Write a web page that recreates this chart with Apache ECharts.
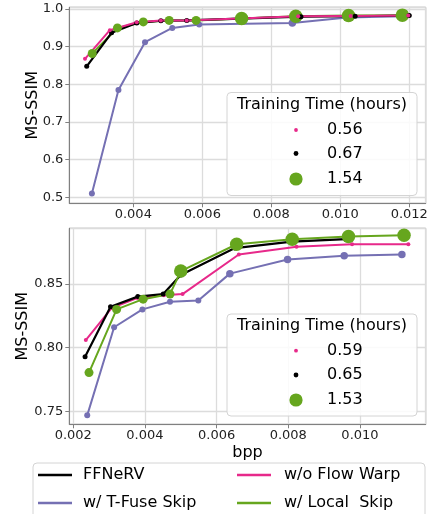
<!DOCTYPE html>
<html><head><meta charset="utf-8">
<script src="https://cdn.jsdelivr.net/npm/echarts@6/dist/echarts.min.js"></script>
<style>html,body{margin:0;padding:0;background:#fff}#c{width:438px;height:514px}</style>
</head><body><div id="c"></div>
<script>
// ---------- data: top panel ----------
const ffTopX    = [0.00265, 0.00337, 0.0041, 0.0048, 0.00555, 0.00886, 0.01043, 0.0120];
const ffTopY    = [0.848, 0.937, 0.963, 0.969, 0.970, 0.980, 0.981, 0.983];
const flowTopX  = [0.0026, 0.00332, 0.0041, 0.0048, 0.00555, 0.00878, 0.0103, 0.01197];
const flowTopY  = [0.868, 0.944, 0.965, 0.970, 0.970, 0.981, 0.982, 0.983];
const tfuseTopX = [0.0028, 0.00357, 0.00434, 0.00513, 0.00591, 0.00861, 0.0102, 0.01183];
const tfuseTopY = [0.510, 0.785, 0.912, 0.950, 0.959, 0.963, 0.978, 0.981];
const localTopX = [0.00281, 0.00354, 0.00429, 0.00504, 0.00582, 0.00714, 0.00871, 0.01024, 0.0118];
const localTopY = [0.882, 0.950, 0.966, 0.970, 0.970, 0.975, 0.981, 0.983, 0.984];
const timeTop   = ['0.56', '0.67', '1.54'];

// ---------- data: bottom panel ----------
const ffBotX    = [0.00233, 0.00304, 0.0038, 0.00451, 0.0050, 0.00651, 0.0081, 0.00961];
const ffBotY    = [0.793, 0.832, 0.840, 0.842, 0.857, 0.878, 0.883, 0.885];
const flowBotX  = [0.00235, 0.00307, 0.0038, 0.00453, 0.00505, 0.00662, 0.00823, 0.00978, 0.01135];
const flowBotY  = [0.806, 0.831, 0.839, 0.841, 0.842, 0.873, 0.879, 0.881, 0.881];
const tfuseBotX = [0.00239, 0.00314, 0.00393, 0.0047, 0.00549, 0.00637, 0.00798, 0.00956, 0.01117];
const tfuseBotY = [0.747, 0.816, 0.830, 0.836, 0.837, 0.858, 0.869, 0.872, 0.873];
const localBotX = [0.00244, 0.00321, 0.00395, 0.0047, 0.0050, 0.00656, 0.00811, 0.00968, 0.01123];
const localBotY = [0.7805, 0.830, 0.838, 0.842, 0.860, 0.881, 0.885, 0.887, 0.888];
const timeBot   = ['0.59', '0.65', '1.53'];

const seriesNames = ['FFNeRV', 'w/o Flow Warp', 'w/ T-Fuse Skip', 'w/ Local  Skip'];

// ---------- styling ----------
const FONT = 'DejaVu Sans';
const C = { ff: '#000000', flow: '#e7298a', tfuse: '#7570b3', local: '#66a61e' };
const zip = (xs, ys) => xs.map((x, i) => [x, ys[i]]);

function mkSeries(name, color, xs, ys, gi, size, lw) {
  return {
    type: 'line', name, xAxisIndex: gi, yAxisIndex: gi,
    data: zip(xs, ys), symbol: 'circle', symbolSize: size,
    showSymbol: true, color,
    lineStyle: { color, width: lw || 2 },
    itemStyle: { color, borderWidth: 0 },
    emphasis: { disabled: true }, animation: false
  };
}
const greenSizeTop = (v, p) => p.dataIndex < 5 ? 9 : 13.5;
const greenSizeBot = (v, p) => p.dataIndex < 4 ? 9 : 13.5;
const purpleSize = (v, p) => p.dataIndex < 5 ? 6 : 7.5;

function xAxis(gi, min, max, name) {
  return {
    type: 'value', gridIndex: gi, min, max,
    name: name || '', nameLocation: 'middle', nameGap: 21, nameMoveOverlap: false,
    nameTextStyle: { fontFamily: FONT, fontSize: 16, color: '#000' },
    axisLine: { show: true, onZero: false, lineStyle: { color: '#808080', width: 1 } },
    axisTick: { show: true, length: 4, lineStyle: { color: '#808080' } },
    splitLine: { show: true, lineStyle: { color: '#dcdcdc', width: 1.3 } },
    axisLabel: { fontFamily: FONT, fontSize: 13, color: '#222', margin: 5,
      showMinLabel: false, showMaxLabel: false,
      formatter: v => v.toFixed(3) }
  };
}
function yAxis(gi, min, max, dec, split, gap) {
  return {
    type: 'value', gridIndex: gi, min, max, splitNumber: split,
    name: 'MS-SSIM', nameLocation: 'middle', nameGap: gap, nameRotate: 90, nameMoveOverlap: false,
    nameTextStyle: { fontFamily: FONT, fontSize: 16, color: '#000' },
    axisLine: { show: true, onZero: false, lineStyle: { color: '#808080', width: 1 } },
    axisTick: { show: true, length: 4, lineStyle: { color: '#808080' } },
    splitLine: { show: true, lineStyle: { color: '#dcdcdc', width: 1.3 } },
    axisLabel: { fontFamily: FONT, fontSize: 13, color: '#222', margin: 6,
      showMinLabel: false, showMaxLabel: false,
      formatter: v => v.toFixed(dec) }
  };
}

function innerLegend(boxTop, boxH, titleY, rowsY, labels) {
  const els = [];
  els.push({ type: 'rect', shape: { x: 227, y: boxTop, width: 190, height: boxH, r: 4 },
    style: { fill: 'rgba(255,255,255,0.85)', stroke: '#d4d4d4', lineWidth: 1 }, z: 100 });
  els.push({ type: 'text', x: 322, y: titleY, z: 101,
    style: { text: 'Training Time (hours)', font: '16px "DejaVu Sans"', fill: '#000',
      textAlign: 'center', textVerticalAlign: 'middle' } });
  const cols = [C.flow, C.ff, C.local];
  const rs = [1.9, 2.4, 6.6];
  labels.forEach((t, i) => {
    els.push({ type: 'circle', shape: { cx: 296, cy: rowsY[i], r: rs[i] }, style: { fill: cols[i] }, z: 101 });
    els.push({ type: 'text', x: 327, y: rowsY[i], z: 101,
      style: { text: t, font: '16px "DejaVu Sans"', fill: '#000', textAlign: 'left', textVerticalAlign: 'middle' } });
  });
  return els;
}

const chart = echarts.init(document.getElementById('c'), null, { renderer: 'canvas' });
const option = {
  animation: false,
  backgroundColor: '#fff',
  grid: [
    { left: 69.3, top: 7.3, width: 356.4, height: 196, show: true, borderColor: '#808080', borderWidth: 1, backgroundColor: 'transparent' },
    { left: 69.3, top: 228.3, width: 356.4, height: 196, show: true, borderColor: '#808080', borderWidth: 1, backgroundColor: 'transparent' }
  ],
  xAxis: [ xAxis(0, 0.002145, 0.012476), xAxis(1, 0.00189, 0.011834, 'bpp') ],
  yAxis: [ yAxis(0, 0.484, 1.0048, 1, 5, 28), yAxis(1, 0.740, 0.8935, 2, 3, 38.5) ],
  legend: [
    { data: ['FFNeRV', 'w/ T-Fuse Skip'], orient: 'vertical', left: 38, top: 465, padding: 0,
      itemGap: 8, itemWidth: 34, itemHeight: 2.5, icon: 'rect', selectedMode: false,
      textStyle: { fontFamily: FONT, fontSize: 16, color: '#000', lineHeight: 20, padding: [0, 0, 0, 6] } },
    { data: ['w/o Flow Warp', 'w/ Local  Skip'], orient: 'vertical', left: 237, top: 465, padding: 0,
      itemGap: 8, itemWidth: 34, itemHeight: 2.5, icon: 'rect', selectedMode: false,
      textStyle: { fontFamily: FONT, fontSize: 16, color: '#000', lineHeight: 20, padding: [0, 0, 0, 8] } }
  ],
  graphic: [
    { type: 'rect', shape: { x: 33, y: 463, width: 392, height: 60, r: 4 },
      style: { fill: '#fff', stroke: '#d4d4d4', lineWidth: 1 }, z: -1 },
    ...innerLegend(92.5, 103, 104.5, [130, 153.5, 179], timeTop),
    ...innerLegend(314, 102, 326, [350.7, 375, 400], timeBot)
  ],
  series: [
    mkSeries(seriesNames[2], C.tfuse, tfuseTopX, tfuseTopY, 0, purpleSize, 2),
    mkSeries(seriesNames[3], C.local, localTopX, localTopY, 0, greenSizeTop, 2),
    mkSeries(seriesNames[0], C.ff, ffTopX, ffTopY, 0, 5, 2.2),
    mkSeries(seriesNames[1], C.flow, flowTopX, flowTopY, 0, 4, 2),
    mkSeries(seriesNames[2], C.tfuse, tfuseBotX, tfuseBotY, 1, purpleSize, 2),
    mkSeries(seriesNames[1], C.flow, flowBotX, flowBotY, 1, 4, 2),
    mkSeries(seriesNames[0], C.ff, ffBotX, ffBotY, 1, 5, 2.2),
    mkSeries(seriesNames[3], C.local, localBotX, localBotY, 1, greenSizeBot, 2)
  ]
};
chart.setOption(option);
</script>
</body></html>
